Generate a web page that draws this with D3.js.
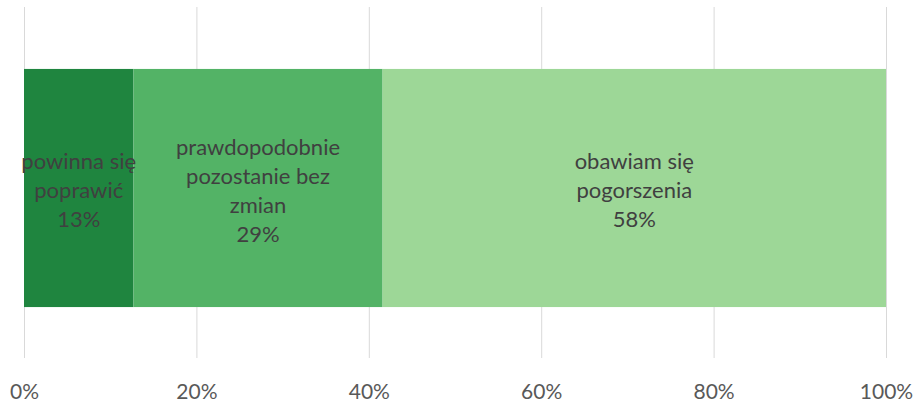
<!DOCTYPE html>
<html><head><meta charset="utf-8">
<script src="https://cdn.jsdelivr.net/npm/d3@7"></script>
<style>body{margin:0;background:#fff}svg{display:block}</style>
</head><body>
<svg id="c" width="915" height="412"></svg>
<script>
const categories = ["powinna się poprawić","prawdopodobnie pozostanie bez zmian","obawiam się pogorszenia"];
const labelLines = [["powinna się","poprawić"],["prawdopodobnie","pozostanie bez","zmian"],["obawiam się","pogorszenia"]];
const values = [12.7, 28.9, 58.4];
const colors = ["#1f853f","#53b366","#9dd797"];
const tickValues = [0,20,40,60,80,100];
const tickLabels = ["0%","20%","40%","60%","80%","100%"];

const svg = d3.select("#c");
const x = d3.scaleLinear().domain([0,100]).range([24,886]);
const y = d3.scaleBand().domain(["r"]).range([38,338]).padding(0.115);
const font = "Lato, 'Open Sans', sans-serif";

// gridlines
svg.append("g").attr("transform","translate(0,358)")
  .call(d3.axisBottom(x).tickValues(tickValues).tickSize(-351).tickFormat((d,i)=>tickLabels[i]).tickPadding(26))
  .call(g=>{g.select(".domain").remove();
    g.selectAll(".tick line").attr("stroke","#d9d9d9").attr("stroke-width",1);
    g.selectAll(".tick text").attr("fill","#595959").attr("font-size","21px").attr("font-family",font);});

let cum = 0;
const segs = values.map((v,i)=>{const s={i,v,x0:cum,x1:cum+v}; cum+=v; return s;});
svg.append("g").selectAll("rect").data(segs).join("rect")
  .attr("x",d=>x(d.x0)).attr("width",d=>x(d.x1)-x(d.x0))
  .attr("y",y("r")).attr("height",y.bandwidth())
  .attr("fill",d=>colors[d.i]);

const lh = 29;
const cy = y("r")+y.bandwidth()/2;
const lab = svg.append("g").attr("font-family",font).attr("font-size","22px").attr("fill","#404040").attr("text-anchor","middle");
segs.forEach(d=>{
  const lines = labelLines[d.i].concat([Math.round(d.v)+"%"]);
  const cx = (x(d.x0)+x(d.x1))/2;
  const n = lines.length;
  lines.forEach((t,k)=>{
    lab.append("text").attr("x",cx).attr("y",cy + (k-(n-1)/2)*lh + 10).text(t);
  });
});
</script>
</body></html>
